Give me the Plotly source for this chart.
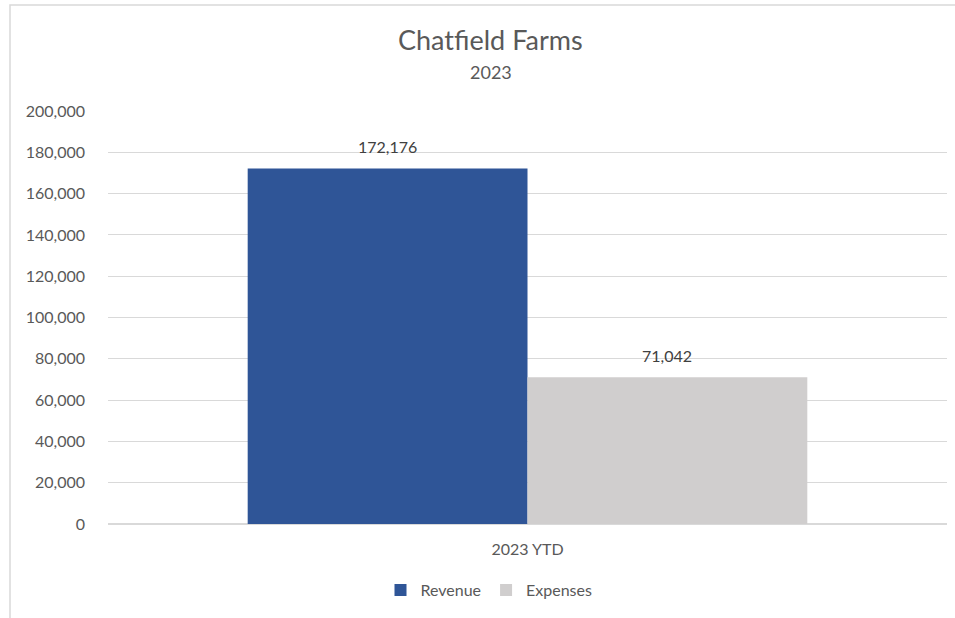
import plotly.graph_objects as go

categories = ["2023 YTD"]
series_names = ["Revenue", "Expenses"]
revenue = [172176]
expenses = [71042]
colors = ["#2F5597", "#D0CECE"]
y_ticks = [0, 20000, 40000, 60000, 80000, 100000, 120000, 140000, 160000, 180000, 200000]

FONT = "Lato"
TXT = "#595959"

W, H = 955, 618
L, R, T, B = 108, 8, 111, 94
pw, ph = W - L - R, H - T - B
BARGAP = 0.333
bar_px = pw * (1 - BARGAP) / 2

def px_x(x):
    return (x - L) / pw

def px_y(y):
    return (H - B - y) / ph

fig = go.Figure()
annotations = []
for i, (name, vals, col) in enumerate(zip(series_names, [revenue, expenses], colors)):
    fig.add_trace(go.Bar(
        x=categories, y=vals, name=name, marker=dict(color=col, line=dict(width=0)),
    ))
    for c, v in zip(categories, vals):
        annotations.append(dict(
            x=c, y=v, xref="x", yref="y", text=f"{v:,}", showarrow=False,
            xshift=(i - 0.5) * bar_px, yshift=22, yanchor="middle", xanchor="center",
            font=dict(family=FONT, size=16, color="#404040"),
        ))

annotations += [
    dict(text="Chatfield Farms", x=px_x(490), y=px_y(40), xref="paper", yref="paper",
         showarrow=False, font=dict(size=27, color=TXT), xanchor="center", yanchor="middle"),
    dict(text="2023", x=px_x(491), y=px_y(72), xref="paper", yref="paper",
         showarrow=False, font=dict(size=18, color=TXT), xanchor="center", yanchor="middle"),
]

fig.update_layout(
    width=W, height=H,
    margin=dict(l=L, r=R, t=T, b=B, autoexpand=False),
    paper_bgcolor="white", plot_bgcolor="white",
    barmode="group", bargap=BARGAP, bargroupgap=0,
    font=dict(family=FONT, color=TXT, size=16),
    showlegend=True,
    legend=dict(orientation="h", x=px_x(489), y=px_y(590), xanchor="center", yanchor="middle",
                font=dict(size=16, color=TXT), itemwidth=30, traceorder="normal"),
    yaxis=dict(range=[0, 200000], tickvals=y_ticks, tickformat=",", showgrid=True,
               gridcolor="#D9D9D9", gridwidth=1, zeroline=True, zerolinecolor="#D9D9D9",
               showline=False, ticks="", ticklabelstandoff=22, tickfont=dict(size=16, color=TXT)),
    xaxis=dict(showgrid=False, showline=False, ticks="", ticklabelstandoff=14,
               tickfont=dict(size=16, color=TXT)),
    annotations=annotations,
    shapes=[dict(type="rect", xref="paper", yref="paper", x0=px_x(10), x1=px_x(975),
                 y0=px_y(640), y1=px_y(5), line=dict(color="#D9D9D9", width=1.5),
                 fillcolor="rgba(0,0,0,0)", layer="below")],
)

fig.write_html("out.html")
